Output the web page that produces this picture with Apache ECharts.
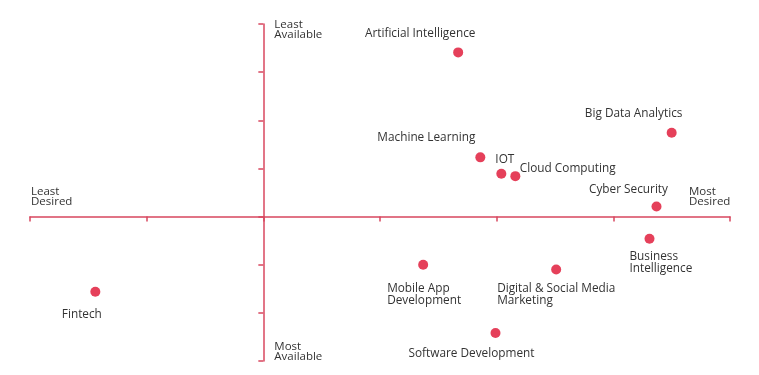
<!DOCTYPE html>
<html><head><meta charset="utf-8">
<script src="https://cdn.jsdelivr.net/npm/echarts@6/dist/echarts.min.js"></script>
<style>html,body{margin:0;padding:0;background:#fff}#c{width:759px;height:375px}</style>
</head><body><div id="c"></div>
<script>
const names = ["Artificial Intelligence","Big Data Analytics","Machine Learning","IOT","Cloud Computing","Cyber Security","Business\nIntelligence","Mobile App\nDevelopment","Digital & Social Media\nMarketing","Software Development","Fintech"];
const desire = [1.67, 3.50, 1.86, 2.04, 2.16, 3.37, 3.31, 1.37, 2.51, 1.99, -1.44];
const availability = [3.41, 1.74, 1.23, 0.89, 0.84, 0.21, -0.46, -1.00, -1.10, -2.42, -1.56];
const axisEndLabels = ["Least\nAvailable","Most\nAvailable","Least\nDesired","Most\nDesired"];

// label layout (styles only)
const labelLayout = [
  {align:'center', offset:[-38,-19]},
  {align:'center', offset:[-38,-19]},
  {align:'center', offset:[-54,-20]},
  {align:'center', offset:[3.5,-14]},
  {align:'left', offset:[4.5,-7]},
  {align:'center', offset:[-28,-17]},
  {align:'left', offset:[-20,24]},
  {align:'left', offset:[-36,30]},
  {align:'left', offset:[-59,25]},
  {align:'center', offset:[-24,21]},
  {align:'center', offset:[-13.5,23]}
];
const FONT = 'Open Sans';
const data = names.map((n,i)=>({
  name:n, value:[desire[i], availability[i]],
  label:{show:true, position:'inside', formatter:n, align:labelLayout[i].align, verticalAlign:'middle',
    offset:labelLayout[i].offset, color:'#333333', fontSize:11.8, fontFamily:FONT, lineHeight:12.5}
}));
const chart = echarts.init(document.getElementById('c'));
const axisColor = '#d8475f';
chart.setOption({
  animation:false,
  grid:{left:30, right:29, top:24, bottom:14},
  xAxis:{type:'value', min:-2, max:4, interval:1,
    axisLine:{show:true, onZero:true, lineStyle:{color:axisColor, width:1.5}},
    axisTick:{show:true, length:5, lineStyle:{color:axisColor, width:1.5}},
    axisLabel:{show:false}, splitLine:{show:false}},
  yAxis:{type:'value', min:-3, max:4, interval:1,
    axisLine:{show:true, onZero:true, lineStyle:{color:axisColor, width:1.5}},
    axisTick:{show:true, length:5, lineStyle:{color:axisColor, width:1.5}},
    axisLabel:{show:false}, splitLine:{show:false}},
  series:[{type:'scatter', symbolSize:10, itemStyle:{color:'#e5405a', opacity:1}, data:data}]
});
const anchors = [[0,4,11,6],[0,-3,11,-9],[-2,0,1,-20],[4,0,-41,-20]];
const g = axisEndLabels.map((t,i)=>{
  const p = chart.convertToPixel({gridIndex:0},[anchors[i][0],anchors[i][1]]);
  return {type:'text', x:p[0]+anchors[i][2], y:p[1]+anchors[i][3],
    style:{text:t, fill:'#333333', font:'11.5px '+FONT, lineHeight:10, textAlign:'left', textVerticalAlign:'middle'}};
});
chart.setOption({graphic:g});
</script></body></html>
